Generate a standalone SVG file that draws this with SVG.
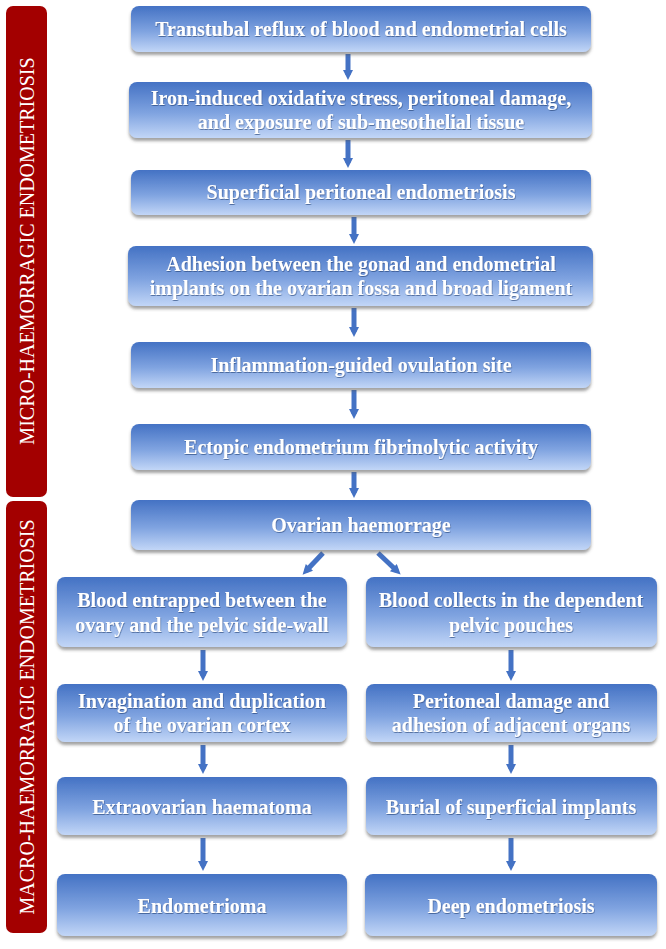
<svg xmlns="http://www.w3.org/2000/svg" width="666" height="949" viewBox="0 0 666 949">
<defs>
<linearGradient id="g" x1="0" y1="0" x2="0" y2="1">
<stop offset="0" stop-color="#4472c4"/>
<stop offset="0.55" stop-color="#7fa3e0"/>
<stop offset="1" stop-color="#c2d6f7"/>
</linearGradient>
<filter id="sh" x="-5%" y="-10%" width="110%" height="130%">
<feDropShadow dx="0" dy="3" stdDeviation="1.8" flood-color="#555" flood-opacity="0.55"/>
</filter>
<filter id="ts" x="-5%" y="-20%" width="110%" height="150%">
<feDropShadow dx="0.6" dy="1" stdDeviation="0.6" flood-color="#1f3a70" flood-opacity="0.6"/>
</filter>
<marker id="ah" viewBox="0 0 10 10" refX="5" refY="5" markerWidth="2.4" markerHeight="2" orient="auto" markerUnits="strokeWidth">
<path d="M0,0 L10,5 L0,10 z" fill="#4472c4"/>
</marker>
</defs>
<style>
.box{fill:url(#g);filter:url(#sh);}
.t{font-family:"Liberation Serif","Times New Roman",serif;font-size:20px;font-weight:bold;fill:#ffffff;text-anchor:middle;filter:url(#ts);}
.bar{fill:#a30000;}
.bt{font-family:"Liberation Serif","Times New Roman",serif;font-size:20px;fill:#ffffff;text-anchor:middle;}
.c{stroke:#4472c4;stroke-width:5;fill:none;marker-end:url(#ah);}
</style>

<g id="micro-label">
<rect class="bar" x="6" y="6" width="41" height="491" rx="7"/>
<text class="bt" transform="translate(34,251) rotate(-90)">MICRO-HAEMORRAGIC ENDOMETRIOSIS</text>
</g>
<g id="macro-label">
<rect class="bar" x="6" y="501" width="41" height="432" rx="7"/>
<text class="bt" transform="translate(34,717) rotate(-90)">MACRO-HAEMORRAGIC ENDOMETRIOSIS</text>
</g>

<g id="connectors">
<line class="c" x1="348" y1="54" x2="348" y2="75"/>
<line class="c" x1="348" y1="140" x2="348" y2="163"/>
<line class="c" x1="354" y1="217" x2="354" y2="239"/>
<line class="c" x1="354" y1="308" x2="354" y2="332"/>
<line class="c" x1="354" y1="390" x2="354" y2="414"/>
<line class="c" x1="354" y1="472" x2="354" y2="493"/>
<line class="c" x1="323" y1="553" x2="306" y2="571"/>
<line class="c" x1="378" y1="553" x2="397" y2="571"/>
<line class="c" x1="203" y1="650" x2="203" y2="676"/>
<line class="c" x1="511" y1="650" x2="511" y2="676"/>
<line class="c" x1="203" y1="745" x2="203" y2="769"/>
<line class="c" x1="511" y1="745" x2="511" y2="769"/>
<line class="c" x1="203" y1="838" x2="203" y2="866"/>
<line class="c" x1="511" y1="838" x2="511" y2="866"/>
</g>

<g id="n1"><rect class="box" x="131" y="6" width="460" height="46" rx="8"/>
<text class="t" x="361" y="36">Transtubal reflux of blood and endometrial cells</text></g>

<g id="n2"><rect class="box" x="129" y="82" width="463" height="56" rx="8"/>
<text class="t" x="361" y="105">Iron-induced oxidative stress, peritoneal damage,</text>
<text class="t" x="361" y="129">and exposure of sub-mesothelial tissue</text></g>

<g id="n3"><rect class="box" x="131" y="170" width="460" height="45" rx="8"/>
<text class="t" x="361" y="199">Superficial peritoneal endometriosis</text></g>

<g id="n4"><rect class="box" x="128" y="246" width="465" height="60" rx="8"/>
<text class="t" x="361" y="271">Adhesion between the gonad and endometrial</text>
<text class="t" x="361" y="295">implants on the ovarian fossa and broad ligament</text></g>

<g id="n5"><rect class="box" x="131" y="342" width="460" height="46" rx="8"/>
<text class="t" x="361" y="372">Inflammation-guided ovulation site</text></g>

<g id="n6"><rect class="box" x="131" y="424" width="460" height="46" rx="8"/>
<text class="t" x="361" y="454">Ectopic endometrium fibrinolytic activity</text></g>

<g id="n7"><rect class="box" x="131" y="500" width="460" height="50" rx="8"/>
<text class="t" x="361" y="532">Ovarian haemorrage</text></g>

<g id="l1"><rect class="box" x="57" y="577" width="290" height="70" rx="8"/>
<text class="t" x="202" y="607">Blood entrapped between the</text>
<text class="t" x="202" y="632">ovary and the pelvic side-wall</text></g>

<g id="r1"><rect class="box" x="366" y="577" width="291" height="70" rx="8"/>
<text class="t" x="511" y="607">Blood collects in the dependent</text>
<text class="t" x="511" y="632">pelvic pouches</text></g>

<g id="l2"><rect class="box" x="57" y="684" width="290" height="58" rx="8"/>
<text class="t" x="202" y="708">Invagination and duplication</text>
<text class="t" x="202" y="732">of the ovarian cortex</text></g>

<g id="r2"><rect class="box" x="366" y="684" width="291" height="58" rx="8"/>
<text class="t" x="511" y="708">Peritoneal damage and</text>
<text class="t" x="511" y="732">adhesion of adjacent organs</text></g>

<g id="l3"><rect class="box" x="57" y="777" width="290" height="58" rx="8"/>
<text class="t" x="202" y="814">Extraovarian haematoma</text></g>

<g id="r3"><rect class="box" x="366" y="777" width="291" height="58" rx="8"/>
<text class="t" x="511" y="814">Burial of superficial implants</text></g>

<g id="l4"><rect class="box" x="57" y="874" width="290" height="62" rx="8"/>
<text class="t" x="202" y="913">Endometrioma</text></g>

<g id="r4"><rect class="box" x="365" y="874" width="292" height="62" rx="8"/>
<text class="t" x="511" y="913">Deep endometriosis</text></g>
</svg>
